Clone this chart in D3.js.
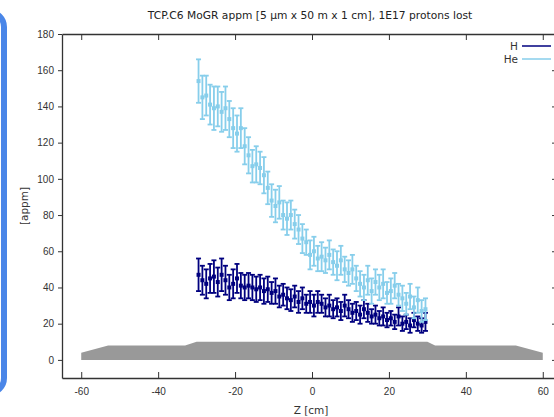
<!DOCTYPE html>
<html>
<head>
<meta charset="utf-8">
<style>
  body { margin: 0; background: #fff; }
  svg { font-family: "DejaVu Sans", sans-serif; display: block; }
  .tick text { font-size: 10px; fill: #333; }
  .domain { stroke: #333; stroke-width: 1.3; }
  .tick line { stroke: #333; }
</style>
</head>
<body>
<svg width="554" height="417"></svg>
<script src="https://d3js.org/d3.v7.min.js"></script>
<script>
// z positions of the bins [cm]
let zPos = [-29.5,-28.5,-27.5,-26.5,-25.5,-24.5,-23.5,-22.5,-21.5,-20.5,
  -19.5,-18.5,-17.5,-16.5,-15.5,-14.5,-13.5,-12.5,-11.5,-10.5,
  -9.5,-8.5,-7.5,-6.5,-5.5,-4.5,-3.5,-2.5,-1.5,-0.5,
  0.5,1.5,2.5,3.5,4.5,5.5,6.5,7.5,8.5,9.5,
  10.5,11.5,12.5,13.5,14.5,15.5,16.5,17.5,18.5,19.5,
  20.5,21.5,22.5,23.5,24.5,25.5,26.5,27.5,28.5,29.5]

let heVal = [154,145,146,141,139,140,137,139,133,128,
  125,128,118,113,107,108,106,102,95,88,
  85,87,80,78,80,75,72,67,65,58,
  60,56,57,55,58,54,52,55,50,48,
  50,45,42,40,44,38,43,40,42,37,
  38,41,36,34,31,35,29,33,27,28]
let heErr = [12,12,11,11,12,11,11,12,10,11,
  10,11,10,10,9,10,9,10,9,9,
  9,9,8,9,8,8,8,8,7,8,
  8,7,8,7,8,7,8,8,7,7,
  8,7,7,7,8,7,7,7,8,6,
  7,7,6,7,6,7,6,7,6,6]

let hVal = [47,44,42,45,46,43,47,44,40,42,
  45,41,40,41,40,39,40,38,39,37,
  38,35,36,34,33,35,32,34,31,32,
  30,32,31,29,30,28,29,27,30,28,
  26,27,25,28,26,24,25,23,24,22,
  23,21,24,20,21,19,22,20,19,21]
let hErr = [9,8,8,8,9,8,9,8,7,8,
  8,7,7,7,7,7,7,7,7,6,
  7,6,6,6,6,6,6,6,5,6,
  6,6,5,5,6,5,5,5,6,5,
  5,5,5,5,5,4,5,4,5,4,
  4,4,5,4,4,4,4,4,4,5]

// collimator jaw outline
let jawZ = [-60,-60,-53,-33,-30,30,32,53,60,60]
let jawY = [0,4,8,8,10,10,8,8,4,0]

let xTicks = [-60,-40,-20,0,20,40,60]
let yTicks = [0,20,40,60,80,100,120,140,160,180]

let series = [
  { name: "H", color: "#00007f", val: hVal, err: hErr },
  { name: "He", color: "#87ceeb", val: heVal, err: heErr }
]

let svg = d3.select("svg")
let margin = { top: 34, right: -8, bottom: 39, left: 62 }
let W = 554, H = 417

let x = d3.scaleLinear().domain([-65, 65]).range([margin.left, W - margin.right])
let y = d3.scaleLinear().domain([-10, 180]).range([H - margin.bottom, margin.top])
let plain = d => String(d)

// highlight frame at the left edge
svg.append("rect")
  .attr("x", -40).attr("y", 12).attr("width", 44).attr("height", 381)
  .attr("rx", 15)
  .attr("fill", "none").attr("stroke", "#4a86e8").attr("stroke-width", 6)

// jaw
svg.append("path")
  .datum(jawZ.map((z, i) => [z, jawY[i]]))
  .attr("fill", "#999")
  .attr("d", d3.line().x(d => x(d[0])).y(d => y(d[1])))

// axes
svg.append("g")
  .attr("transform", `translate(0,${y(-10)})`)
  .call(d3.axisBottom(x).tickValues(xTicks).tickSizeInner(-6).tickSizeOuter(0).tickPadding(10).tickFormat(plain))
svg.append("g")
  .attr("transform", `translate(0,${y(180)})`)
  .call(d3.axisTop(x).tickValues(xTicks).tickSizeInner(-6).tickSizeOuter(0).tickFormat(""))
svg.append("g")
  .attr("transform", `translate(${x(-65)},0)`)
  .call(d3.axisLeft(y).tickValues(yTicks).tickSizeInner(4).tickSizeOuter(0).tickPadding(4).tickFormat(plain))
svg.append("g")
  .attr("transform", `translate(${x(65)},0)`)
  .call(d3.axisRight(y).tickValues(yTicks).tickSizeInner(-10).tickSizeOuter(0).tickFormat(""))

// error bars
series.forEach(s => {
  let g = svg.append("g").attr("stroke", s.color).attr("fill", s.color)
  let pts = zPos.map((z, i) => ({ z: z, v: s.val[i], e: s.err[i] }))
  g.selectAll(".bar").data(pts).join("line")
    .attr("x1", d => x(d.z)).attr("x2", d => x(d.z))
    .attr("y1", d => y(d.v - d.e)).attr("y2", d => y(d.v + d.e))
    .attr("stroke-width", 1.8)
  g.selectAll(".capT").data(pts).join("line")
    .attr("x1", d => x(d.z) - 2.5).attr("x2", d => x(d.z) + 2.5)
    .attr("y1", d => y(d.v + d.e)).attr("y2", d => y(d.v + d.e))
    .attr("stroke-width", 1.8)
  g.selectAll(".capB").data(pts).join("line")
    .attr("x1", d => x(d.z) - 2.5).attr("x2", d => x(d.z) + 2.5)
    .attr("y1", d => y(d.v - d.e)).attr("y2", d => y(d.v - d.e))
    .attr("stroke-width", 1.8)
  g.selectAll("rect").data(pts).join("rect")
    .attr("x", d => x(d.z) - 2).attr("y", d => y(d.v) - 2)
    .attr("width", 4).attr("height", 4).attr("stroke", "none")
})

// legend
let leg = svg.append("g").attr("transform", "translate(518,46)")
series.forEach((s, i) => {
  leg.append("text").attr("x", 0).attr("y", i * 13 + 4)
    .attr("text-anchor", "end").attr("font-size", 10.5).attr("fill", "#333").text(s.name)
  leg.append("line").attr("x1", 4).attr("x2", 33)
    .attr("y1", i * 13).attr("y2", i * 13)
    .attr("stroke", s.color).attr("stroke-width", 1.5)
})

// titles
svg.append("text").attr("x", 310).attr("y", 19).attr("text-anchor", "middle")
  .attr("font-size", 10.7).attr("fill", "#222")
  .text("TCP.C6 MoGR appm [5 µm x 50 m x 1 cm], 1E17 protons lost")
svg.append("text").attr("x", 311).attr("y", 414).attr("text-anchor", "middle")
  .attr("font-size", 10.5).attr("fill", "#333").text("Z [cm]")
svg.append("text").attr("transform", "translate(28,206) rotate(-90)")
  .attr("text-anchor", "middle").attr("font-size", 10.5).attr("fill", "#333").text("[appm]")
</script>
</body>
</html>
